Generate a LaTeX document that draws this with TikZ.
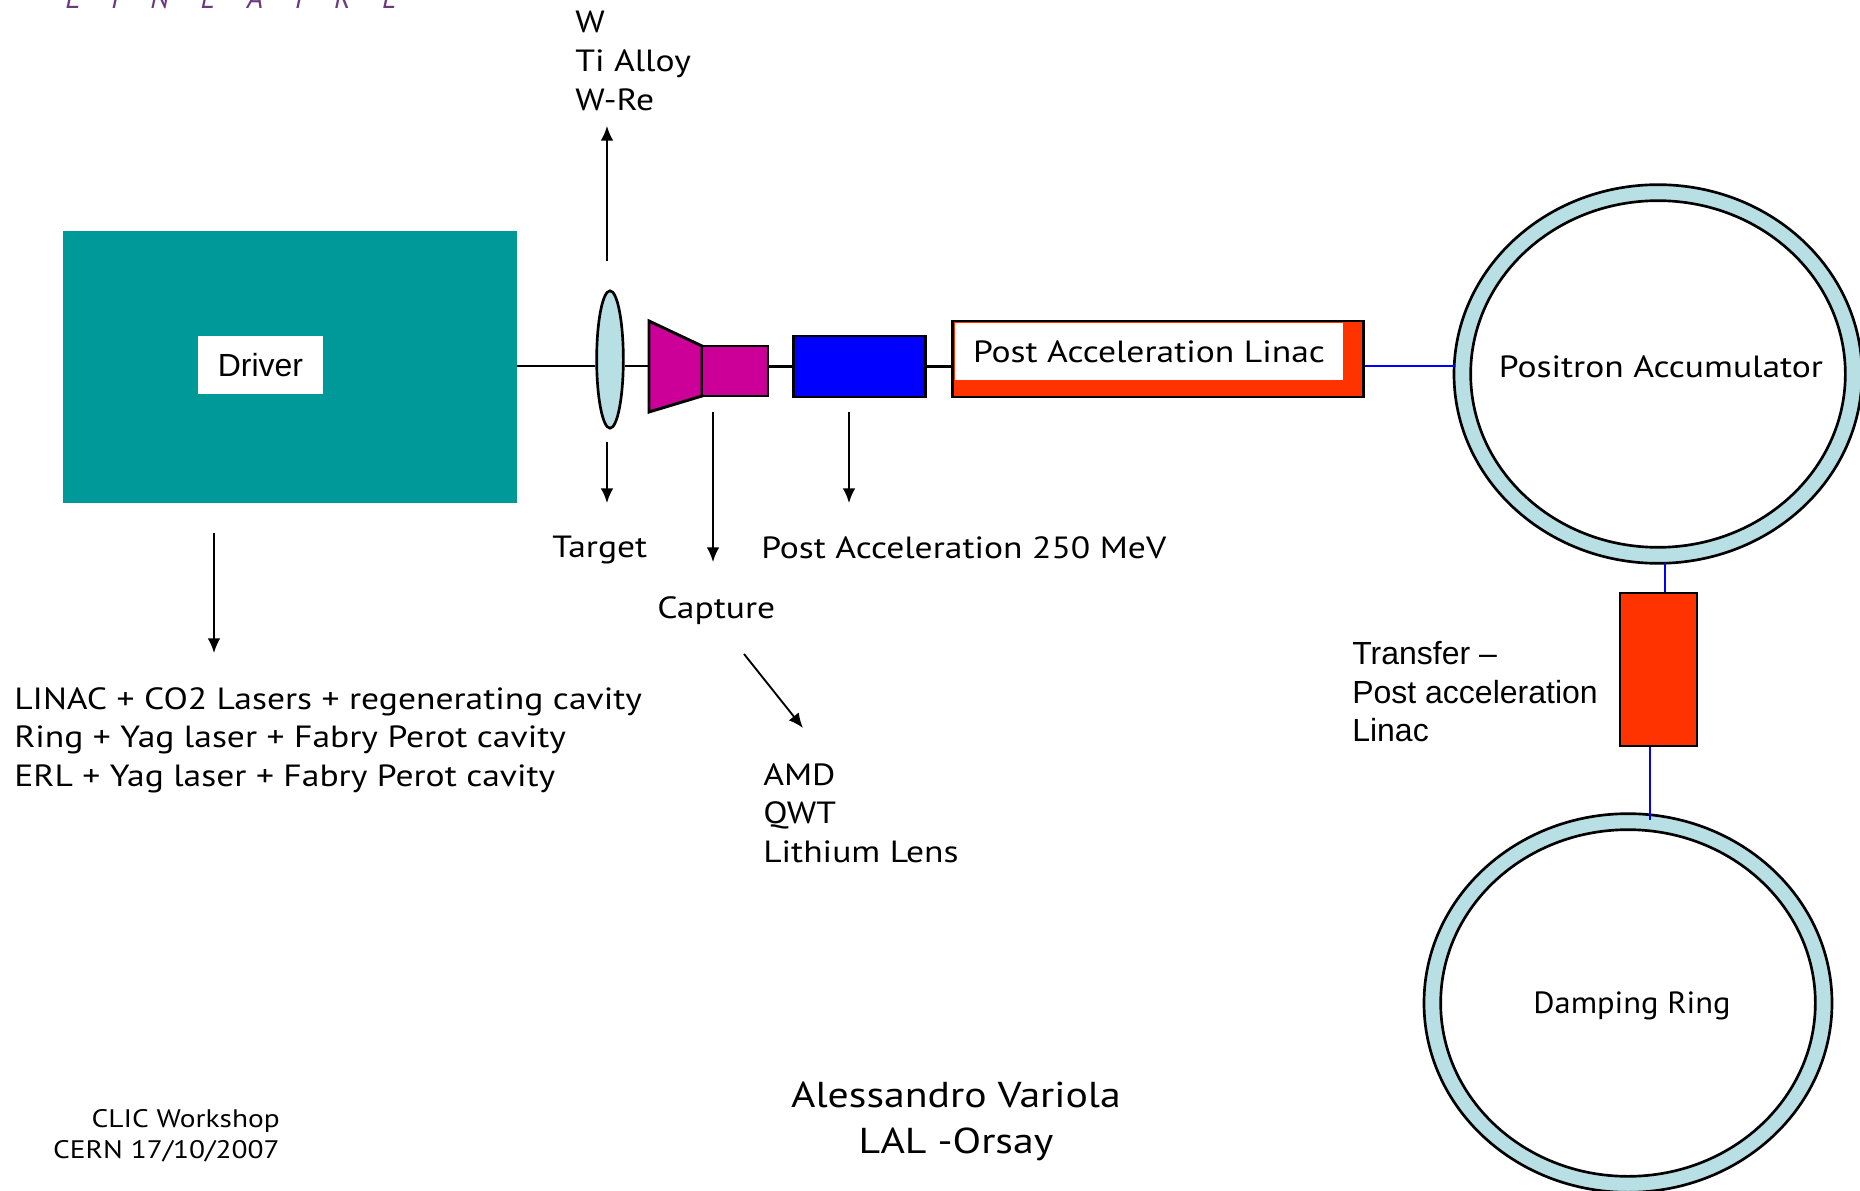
\documentclass[tikz,border=0pt]{standalone}
\usepackage{fontspec}
\usepackage{tikz}
\usetikzlibrary{arrows.meta,shapes.geometric,positioning}
\setmainfont[FakeStretch=1.16]{PT Sans}
\newfontfamily\arialfont{Liberation Sans}
\newfontfamily\labfont{PT Sans Italic}
\newfontfamily\narrowfont[FakeStretch=1.06]{PT Sans}
\definecolor{driverteal}{HTML}{009999}
\definecolor{ringblue}{HTML}{B8DFE3}
\definecolor{horn}{HTML}{CC0099}
\definecolor{linacred}{HTML}{FF3300}
\definecolor{lalpurple}{HTML}{6B3A7D}
\tikzstyle{block}=[draw,line width=2pt,inner sep=0pt]
\tikzstyle{ringout}=[draw,ellipse,fill=ringblue,line width=2pt,inner sep=0pt,minimum width=306pt,minimum height=284pt]
\tikzstyle{ringin}=[draw,ellipse,fill=white,line width=2pt,inner sep=0pt,minimum width=281pt,minimum height=260pt]
\tikzstyle{label}=[inner sep=0pt,font=\fontsize{23}{29}\selectfont,align=left]
\tikzstyle{arial}=[inner sep=0pt,font=\arialfont\fontsize{24}{29}\selectfont,align=left]
\tikzstyle{pointer}=[draw,-{Latex[length=11pt,width=9.5pt]},line width=1.4pt]
\tikzstyle{beam}=[line width=2.2pt]

\begin{document}
\begin{tikzpicture}[x=0.75pt,y=-0.75pt]
\useasboundingbox (0,0) rectangle (1860,1191);

% lab name, cut by the page
\node [anchor=west,inner sep=0pt,text=lalpurple,font=\labfont\fontsize{22}{26}\selectfont] (lab) at (65,-2) {L\ \ \ \ I\ \ \ \ N\ \ \ \ E\ \ \ \ A\ \ \ \ I\ \ \ \ R\ \ \ \ E};

% driver
\node [fill=driverteal,minimum width=340.5pt,minimum height=204pt,inner sep=0pt] (driver) at (290,367) {};
\node [fill=white,minimum width=94pt,minimum height=43.5pt,inner sep=0pt,arial] (driverlabel) at (260.5,365) {Driver};

% beam line elements
\node [block,ellipse,fill=ringblue,minimum width=20pt,minimum height=103pt] (lens) at (610,359.5) {};
\coordinate (hornin) at (649,366);
\draw [beam,fill=horn] (649,321) -- (702,346) -- (702,396) -- (649,412) -- cycle;
\node [block,fill=horn,minimum width=49.5pt,minimum height=37.5pt] (capture) at (735,371) {};
\node [block,fill=blue,minimum width=99pt,minimum height=45.75pt] (boost) at (859.5,366.5) {};
\node [block,fill=linacred,minimum width=308.25pt,minimum height=57pt] (linac) at (1158,359) {};
\node [fill=white,minimum width=291pt,minimum height=42.75pt,inner sep=0pt,label] (linaclabel) at (1149,351.5) {Post Acceleration Linac};

% rings
\node [ringout] (accumout) at (1658,374) {};
\node [ringin] (accum) at (1658,374) {};
\node [label] (accumlabel) at (1661,367) {Positron Accumulator};
\node [ringout] (dampout) at (1628,1003) {};
\node [ringin] (damp) at (1628,1003) {};
\node [label,font=\narrowfont\fontsize{23}{29}\selectfont] (damplabel) at (1632,1006) {Damping Ring};
\node [block,fill=linacred,minimum width=57.75pt,minimum height=114.75pt] (transfer) at (1658.5,669.5) {};

% beam line
\draw [beam] (driver.east |- hornin) -- (lens.west |- hornin);
\draw [beam] (lens.east |- hornin) -- (hornin);
\draw [beam] (capture.east |- boost.west) -- (boost.west);
\draw [beam] (boost.east) -- (linac.west |- boost.east);
\coordinate (accumin) at (1455,366);
\draw [blue,beam] (linac.east |- accumin) -- (accumin);
\coordinate (accumlow) at (1665,563);
\draw [blue,beam] (accumlow) -- (accumlow |- transfer.north);
\coordinate (damptop) at (1650,820);
\draw [blue,beam] (damptop |- transfer.south) -- (damptop);

% pointers
\coordinate (uptail) at (607,261);
\coordinate (uphead) at (607,126);
\coordinate (targettail) at (607,442);
\coordinate (targethead) at (607,503);
\coordinate (capturetail) at (713,412);
\coordinate (capturehead) at (713,562);
\coordinate (boosttail) at (849,412);
\coordinate (boosthead) at (849,503);
\coordinate (drivertail) at (214,533);
\coordinate (driverhead) at (214,653);
\coordinate (amdtail) at (744,654);
\coordinate (amdhead) at (803,728);
\draw [pointer] (uptail) -- (uphead);
\draw [pointer] (targettail) -- (targethead);
\draw [pointer] (capturetail) -- (capturehead);
\draw [pointer] (boosttail) -- (boosthead);
\draw [pointer] (drivertail) -- (driverhead);
\draw [pointer] (amdtail) -- (amdhead);

% texts
\node [label,anchor=north west] (metals) at (575,11) {W\\Ti Alloy\\W-Re};
\node [label,anchor=west] (target) at (552,550) {Target};
\node [label,anchor=west] (capturetext) at (657,611) {Capture};
\node [label,anchor=west] (energy) at (761,548) {Post Acceleration 250 MeV};
\node [label,anchor=north west] (drivers) at (14,687) {LINAC + CO2 Lasers + regenerating cavity\\Ring + Yag laser + Fabry Perot cavity\\ERL + Yag laser + Fabry Perot cavity};
\node [label,anchor=north west] (focus) at (763,763) {AMD\\QWT\\Lithium Lens};
\node [arial,anchor=north west] (transfertext) at (1352,641) {Transfer –\\Post acceleration\\Linac};
\node [label,anchor=north,align=center,font=\fontsize{27}{34}\selectfont] (author) at (956,1082) {Alessandro Variola\\LAL -Orsay};
\node [label,anchor=north east,align=right,font=\fontsize{19}{23.5}\selectfont] (place) at (280,1109) {CLIC Workshop\\CERN 17/10/2007};
\end{tikzpicture}
\end{document}
